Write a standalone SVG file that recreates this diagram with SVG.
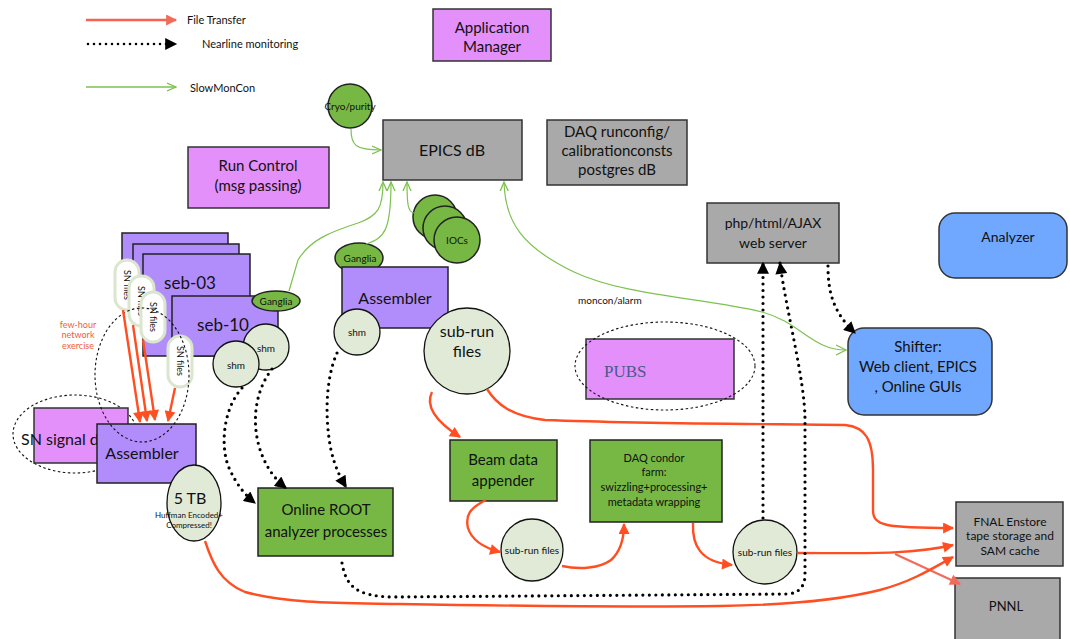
<svg xmlns="http://www.w3.org/2000/svg" width="1070" height="639" viewBox="0 0 1070 639">
<defs>
<style>
text{font-family:Lato,"Liberation Sans",sans-serif;fill:#111}
.pink{fill:#e390fa;stroke:#333;stroke-width:1.5}
.purp{fill:#b18cfb;stroke:#222;stroke-width:1.5}
.grey{fill:#a9a9a9;stroke:#333;stroke-width:1.5}
.grn{fill:#76b843;stroke:#222;stroke-width:1.5}
.lg{fill:#e0ead6;stroke:#111;stroke-width:1.3}
.blue{fill:#70a8ff;stroke:#333;stroke-width:1.5}
.pill{fill:#fff;stroke:#dbe6cf;stroke-width:3}
.red{fill:none;stroke:#ff4f22;stroke-width:2.4;marker-end:url(#ar)}
.dot{fill:none;stroke:#000;stroke-width:3.2;stroke-dasharray:0 6.5;stroke-linecap:round;marker-end:url(#ab)}
.gr{fill:none;stroke:#7cc24f;stroke-width:1.2;marker-end:url(#ag)}
.dell{fill:none;stroke:#111;stroke-width:1.1;stroke-dasharray:2.5 2.5}
.c{text-anchor:middle}
</style>
<marker id="ar" viewBox="0 0 10 10" refX="9" refY="5" markerUnits="userSpaceOnUse" markerWidth="13" markerHeight="11" orient="auto"><path d="M0,0 L10,5 L0,10 z" fill="#ff4f22"/></marker>
<marker id="arl" viewBox="0 0 10 10" refX="9" refY="5" markerUnits="userSpaceOnUse" markerWidth="13" markerHeight="11" orient="auto"><path d="M0,0 L10,5 L0,10 z" fill="#f26a5a"/></marker>
<marker id="ab" viewBox="0 0 10 10" refX="9" refY="5" markerUnits="userSpaceOnUse" markerWidth="14" markerHeight="12" orient="auto"><path d="M0,0 L10,5 L0,10 z" fill="#000"/></marker>
<marker id="ag" viewBox="0 0 10 10" refX="9" refY="5" markerUnits="userSpaceOnUse" markerWidth="10" markerHeight="10" orient="auto"><path d="M0,1 L9,5 L0,9" fill="none" stroke="#7cc24f" stroke-width="1.3"/></marker>
</defs>

<g id="legend">
<line x1="86" y1="20" x2="176" y2="20" stroke="#f86050" stroke-width="2.4" marker-end="url(#arl)"/>
<text x="187" y="24" font-size="11">File Transfer</text>
<line x1="88" y1="44" x2="176" y2="44" stroke="#000" stroke-width="2.6" stroke-dasharray="0 6" stroke-linecap="round" marker-end="url(#ab)"/>
<text x="202" y="48" font-size="11">Nearline monitoring</text>
<line x1="86" y1="87" x2="176" y2="87" stroke="#7cc24f" stroke-width="1.3" marker-end="url(#ag)"/>
<text x="190" y="92" font-size="11">SlowMonCon</text>
</g>

<g id="app-manager"><rect x="433" y="9" width="118" height="52" class="pink"/><text x="492" y="33" font-size="15" class="c">Application</text><text x="492" y="52" font-size="15" class="c">Manager</text></g>
<g id="epics"><rect x="383" y="120" width="139" height="60" class="grey"/><text x="452" y="156" font-size="16" class="c">EPICS dB</text></g>
<g id="daq-runconfig"><rect x="547" y="120" width="140" height="65" class="grey"/><text x="617" y="137" font-size="15" class="c">DAQ runconfig/</text><text x="617" y="156" font-size="15" class="c">calibrationconsts</text><text x="617" y="175" font-size="15" class="c">postgres dB</text></g>
<g id="run-control"><rect x="188" y="147" width="141" height="61" class="pink"/><text x="258" y="171" font-size="15" class="c">Run Control</text><text x="258" y="191" font-size="15" class="c">(msg passing)</text></g>
<g id="cryo"><circle cx="350" cy="106" r="22" class="grn"/><text x="350" y="110" font-size="10" class="c">Cryo/purity</text></g>
<g id="iocs"><circle cx="435" cy="217" r="22" class="grn"/><circle cx="445" cy="228" r="22" class="grn"/><circle cx="457" cy="240" r="23" class="grn"/><text x="457" y="244" font-size="10" class="c">IOCs</text></g>
<g id="web-server"><rect x="707" y="203" width="132" height="60" class="grey"/><text x="773" y="228" font-size="14" class="c">php/html/AJAX</text><text x="773" y="248" font-size="14" class="c">web server</text></g>
<g id="analyzer"><rect x="939" y="213" width="128" height="65" rx="16" class="blue"/><text x="1008" y="242" font-size="14" class="c">Analyzer</text></g>
<g id="shifter"><rect x="848" y="328" width="144" height="87" rx="16" class="blue"/><text x="918" y="352" font-size="15" class="c">Shifter:</text><text x="918" y="372" font-size="15" class="c">Web client, EPICS</text><text x="918" y="392" font-size="15" class="c">, Online GUIs</text></g>
<g id="pubs"><rect x="586" y="339" width="148" height="60" class="pink"/><text x="604" y="377" font-size="17" style="font-family:'Liberation Serif',serif;fill:#4a5a8a">PUBS</text><ellipse cx="665" cy="366" rx="90" ry="44" class="dell"/></g>

<g id="seb-stack">
<rect x="122" y="233" width="106" height="62" class="purp"/>
<rect x="133" y="244" width="106" height="62" class="purp"/>
<rect x="143" y="254" width="107" height="102" class="purp"/>
<text x="190" y="289" font-size="17" class="c">seb-03</text>
<rect x="172" y="296" width="106" height="60" class="purp"/>
<text x="223" y="331" font-size="17" class="c">seb-10</text>
</g>
<g id="ganglia-seb"><ellipse cx="276" cy="301" rx="24" ry="10" class="grn"/><text x="276" y="305" font-size="10" class="c">Ganglia</text></g>
<g id="shm-a"><circle cx="266" cy="347" r="23" class="lg"/><text x="266" y="352" font-size="10" class="c">shm</text></g>
<g id="shm-b"><circle cx="236" cy="364" r="23" class="lg"/><text x="236" y="369" font-size="10" class="c">shm</text></g>

<g id="sn-signal"><ellipse cx="75" cy="434" rx="62" ry="39" class="dell"/><rect x="34" y="408" width="94" height="55" class="pink"/><text x="21" y="445" font-size="16">SN signal d</text></g>
<g id="assembler-sn"><rect x="97" y="424" width="99" height="59" class="purp"/><text x="142" y="459" font-size="16" class="c">Assembler</text></g>

<g id="sn-files">
<rect x="115" y="260" width="24" height="50" rx="12" class="pill"/><text transform="translate(124,285) rotate(90)" font-size="9" class="c">SN files</text>
<rect x="129" y="276" width="25" height="50" rx="12" class="pill"/><text transform="translate(138,301) rotate(90)" font-size="9" class="c">SN files</text>
<rect x="141" y="292" width="24" height="50" rx="12" class="pill"/><text transform="translate(150,317) rotate(90)" font-size="9" class="c">SN files</text>
<rect x="168" y="336" width="24" height="51" rx="12" class="pill"/><text transform="translate(177,361) rotate(90)" font-size="9" class="c">SN files</text>
</g>
<g id="few-hour"><text x="78" y="328" font-size="9" class="c" style="fill:#f0603a">few-hour</text><text x="78" y="338" font-size="9" class="c" style="fill:#f0603a">network</text><text x="78" y="349" font-size="9" class="c" style="fill:#f0603a">exercise</text><ellipse cx="142" cy="375" rx="47" ry="67" class="dell"/></g>

<g id="five-tb"><ellipse cx="194" cy="503" rx="27" ry="38" class="lg"/><text x="190" y="504" font-size="16" class="c">5 TB</text><text x="189" y="518" font-size="8" class="c">Huffman Encoded+</text><text x="189" y="528" font-size="8" class="c">Compressed!</text></g>

<g id="ganglia-mid"><ellipse cx="359" cy="258" rx="24" ry="15" class="grn"/><text x="360" y="262" font-size="10" class="c">Ganglia</text></g>
<g id="assembler-mid"><rect x="342" y="267" width="106" height="61" class="purp"/><text x="395" y="304" font-size="16" class="c">Assembler</text></g>
<g id="shm-mid"><circle cx="357" cy="332" r="23" class="lg"/><text x="357" y="336" font-size="10" class="c">shm</text></g>
<g id="subrun-big"><circle cx="467" cy="351" r="43" class="lg"/><text x="467" y="337" font-size="16" class="c">sub-run</text><text x="467" y="357" font-size="16" class="c">files</text></g>

<g id="online-root"><rect x="258" y="488" width="135" height="68" class="grn"/><text x="326" y="515" font-size="15" class="c">Online ROOT</text><text x="326" y="537" font-size="15" class="c">analyzer processes</text></g>
<g id="beam"><rect x="450" y="440" width="107" height="61" class="grn"/><text x="503" y="465" font-size="15" class="c">Beam data</text><text x="503" y="486" font-size="15" class="c">appender</text></g>
<g id="daq-condor"><rect x="590" y="440" width="132" height="82" class="grn"/><text x="654" y="462" font-size="11" class="c">DAQ condor</text><text x="654" y="476" font-size="11" class="c">farm:</text><text x="654" y="491" font-size="11" class="c">swizzling+processing+</text><text x="654" y="506" font-size="11" class="c">metadata wrapping</text></g>
<g id="subrun-1"><circle cx="532" cy="550" r="31" class="lg"/><text x="532" y="554" font-size="10" class="c">sub-run files</text></g>
<g id="subrun-2"><circle cx="765" cy="552" r="32" class="lg"/><text x="765" y="556" font-size="10" class="c">sub-run files</text></g>
<g id="fnal"><rect x="956" y="502" width="107" height="64" class="grey"/><text x="1010" y="526" font-size="12" class="c">FNAL Enstore</text><text x="1010" y="540" font-size="12" class="c">tape storage and</text><text x="1010" y="555" font-size="12" class="c">SAM cache</text></g>
<g id="pnnl"><rect x="955" y="578" width="105" height="70" class="grey"/><text x="1006" y="611" font-size="13" class="c">PNNL</text></g>

<g id="connectors">
<path class="red" d="M123,310 L140,422"/>
<path class="red" d="M133,325 L147,421"/>
<path class="red" d="M143,340 L155,420"/>
<path class="red" d="M175,388 L168,421"/>
<path class="red" d="M432,392 C424,408 440,424 460,437"/>
<path class="red" d="M487,389 C497,405 512,416 545,420 C650,424 780,424 845,425 C866,427 873,440 873,470 L873,510 C873,526 885,528 953,528"/>
<path class="red" d="M486,500 C470,508 465,515 468,528 C472,541 485,548 500,552"/>
<path class="red" d="M562,566 C580,570 600,568 611,560 C622,550 624,535 624,524"/>
<path class="red" d="M693,523 C692,545 700,562 732,565"/>
<path class="red" d="M797,553 C860,553 910,555 953,545"/>
<path d="M895,554 L960,584" fill="none" stroke="#f26a5a" stroke-width="2.2" marker-end="url(#arl)"/>
<path class="red" d="M205,541 C212,562 220,582 245,592 C290,604 340,603 400,604 C520,606 650,607 720,606 C790,605 840,600 880,590 C910,582 930,570 953,557"/>
<path class="dot" d="M242,388 C222,410 220,450 230,470 C237,485 245,495 255,503"/>
<path class="dot" d="M272,369 C252,395 252,430 262,455 C268,470 276,480 286,488"/>
<path class="dot" d="M337,353 C325,380 325,420 331,450 C335,467 340,477 346,487"/>
<path class="dot" d="M342,563 C346,586 356,596 392,597 L788,594 C800,593 805,585 805,575 L805,420 C805,380 786,310 780,263"/>
<path class="dot" d="M763,518 L763,263"/>
<path class="dot" d="M828,266 C828,292 833,312 855,333"/>
<path class="gr" d="M351,129 C351,145 355,150 381,150"/>
<path class="gr" d="M289,291 L298,260 C310,240 330,232 358,223 C378,216 383,208 383,182"/>
<path class="gr" d="M366,244 C385,238 391,230 391,182"/>
<path class="gr" d="M414,213 C408,212 407,205 407,182"/>
<path class="gr" d="M846,350 C812,350 800,322 762,312 C705,298 625,296 574,272 C522,247 505,222 504,182"/>
<path d="M836,345 L846,350 L836,355" fill="none" stroke="#7cc24f" stroke-width="1.3"/>
<text x="578" y="304" font-size="10">moncon/alarm</text>
</g>
</svg>
